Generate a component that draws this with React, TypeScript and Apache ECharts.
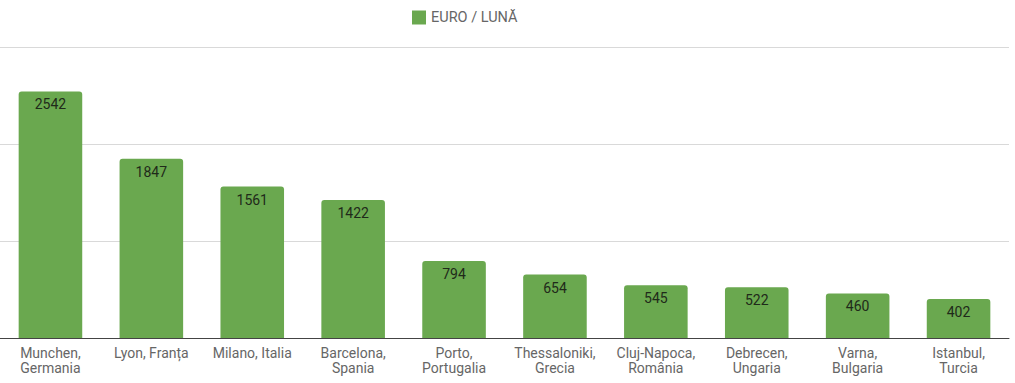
import React, { useEffect, useRef } from "react";
import * as echarts from "echarts";

const categories = [
  "Munchen,\nGermania",
  "Lyon, Franța",
  "Milano, Italia",
  "Barcelona,\nSpania",
  "Porto,\nPortugalia",
  "Thessaloniki,\nGrecia",
  "Cluj-Napoca,\nRomânia",
  "Debrecen,\nUngaria",
  "Varna,\nBulgaria",
  "Istanbul,\nTurcia",
];
const values = [2542, 1847, 1561, 1422, 794, 654, 545, 522, 460, 402];
const seriesName = "EURO / LUNĂ";

export default function App() {
  const ref = useRef<HTMLDivElement>(null);
  useEffect(() => {
    if (!ref.current) return;
    const chart = echarts.init(ref.current, null, { renderer: "svg" });
    chart.setOption({
      animation: false,
      textStyle: { fontFamily: "Roboto" },
      legend: {
        top: 10,
        left: 412,
        padding: 0,
        itemWidth: 14,
        itemHeight: 14,
        itemGap: 10,
        icon: "rect",
        textStyle: { color: "#666", fontSize: 14.5, fontFamily: "Roboto" },
        data: [seriesName],
      },
      grid: { left: 0, right: 6, top: 47, bottom: 45, containLabel: false },
      xAxis: {
        type: "category",
        data: categories,
        axisTick: { show: false },
        axisLine: { lineStyle: { color: "#444", width: 1 } },
        axisLabel: {
          color: "#666",
          fontSize: 14,
          lineHeight: 15,
          margin: 7,
          interval: 0,
          fontFamily: "Roboto",
        },
      },
      yAxis: {
        type: "value",
        min: 0,
        max: 3000,
        interval: 1000,
        axisLabel: { show: false },
        axisLine: { show: false },
        axisTick: { show: false },
        splitLine: { lineStyle: { color: "#d9d9d9", width: 1 } },
      },
      series: [
        {
          name: seriesName,
          type: "bar",
          data: values,
          barWidth: "63%",
          itemStyle: { color: "#6aa84f", borderRadius: [3, 3, 0, 0] },
          label: {
            show: true,
            position: "insideTop",
            distance: 6,
            color: "#1f2a1a",
            fontSize: 14,
            fontFamily: "Roboto",
          },
        },
      ],
    });
    return () => chart.dispose();
  }, []);
  return (
    <div
      ref={ref}
      style={{ position: "absolute", left: 0, top: 0, width: 1015, height: 383 }}
    />
  );
}
